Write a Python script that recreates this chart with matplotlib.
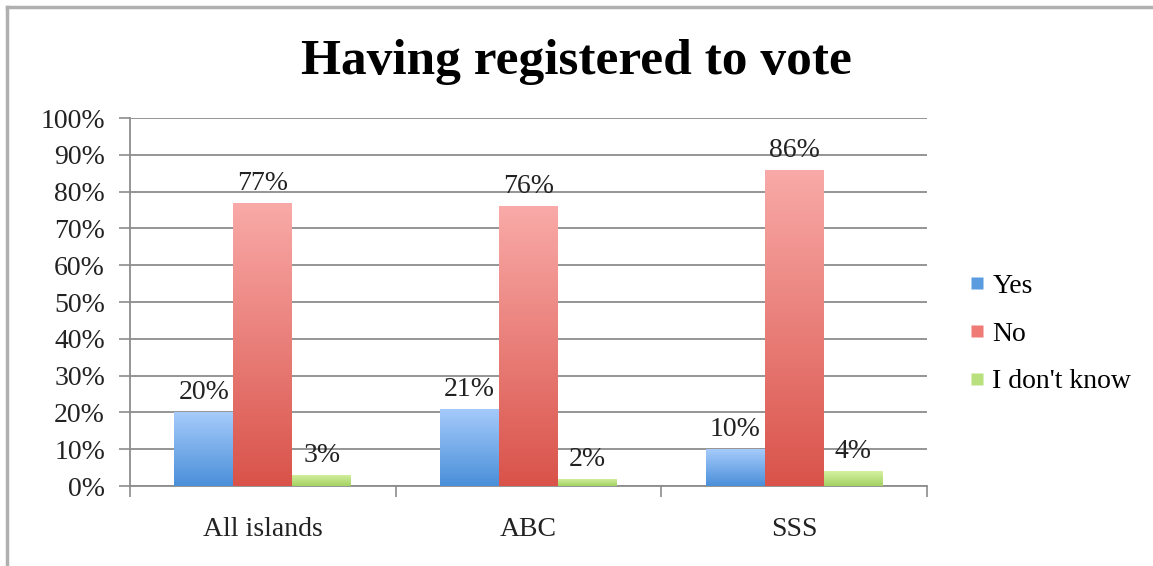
import matplotlib
matplotlib.use("Agg")
import matplotlib.pyplot as plt
import numpy as np
from matplotlib.colors import LinearSegmentedColormap
from matplotlib.lines import Line2D

categories = ["All islands", "ABC", "SSS"]
series_names = ["Yes", "No", "I don't know"]
yes_vals = [20, 21, 10]
no_vals = [77, 76, 86]
idk_vals = [3, 2, 4]
y_ticks = [0, 10, 20, 30, 40, 50, 60, 70, 80, 90, 100]
title = "Having registered to vote"

grad_colors = [("#a6cbfb", "#4a8fd9"), ("#f9aaa8", "#d9534a"), ("#d6f0a2", "#a3d262")]
legend_colors = ["#5b9be0", "#ee7b76", "#b8e07c"]

plt.rcParams['font.family'] = ['Liberation Serif', 'DejaVu Serif']

fig = plt.figure(figsize=(11.53, 5.66), dpi=100)
ax = fig.add_axes([130/1153, 80/566, (927-130)/1153, (486-118)/566])

x = np.arange(len(categories))
w = 0.222
all_vals = [yes_vals, no_vals, idk_vals]
grad = np.linspace(0, 1, 256).reshape(-1, 1)
for i, vals in enumerate(all_vals):
    offs = (i - 1) * w
    bars = ax.bar(x + offs, vals, w, color="none", edgecolor="none", zorder=3)
    cmap = LinearSegmentedColormap.from_list(f"g{i}", [grad_colors[i][1], grad_colors[i][0]])
    for b, v in zip(bars, vals):
        bx, by = b.get_x(), b.get_y()
        bw, bh = b.get_width(), b.get_height()
        im = ax.imshow(grad, cmap=cmap, aspect="auto", origin="lower",
                       extent=[bx, bx + bw, by, by + bh], zorder=3)
        im.set_clip_path(b)
        ax.annotate(f"{v}%", (bx + bw / 2, by + bh), xytext=(0, 5),
                    textcoords="offset points", ha="center", va="bottom",
                    fontsize=20, color="#222222", zorder=5)

ax.set_xlim(-0.5, len(categories) - 0.5)
ax.set_ylim(0, 100)
ax.set_yticks(y_ticks)
ax.set_yticklabels([f"{t}%" for t in y_ticks], fontsize=20, color="#222222")
ax.set_xticks(x)
ax.set_xticklabels(categories, fontsize=20, color="#222222")
ax.set_xticks([-0.5, 0.5, 1.5, 2.5], minor=True)
ax.tick_params(axis="x", which="major", length=0, pad=22)
ax.tick_params(axis="x", which="minor", length=8, color="#8c8c8c", width=1.2)
ax.tick_params(axis="y", length=8, color="#8c8c8c", width=1.2, pad=10)
ax.grid(axis="y", color="#8c8c8c", linewidth=1.3, zorder=0)
ax.set_axisbelow(True)
for s in ["top", "right"]:
    ax.spines[s].set_visible(False)
for s in ["left", "bottom"]:
    ax.spines[s].set_color("#8c8c8c")
    ax.spines[s].set_linewidth(1.3)

fig.text(0.5, 1 - 62/566, title, ha="center", va="center", fontsize=37,
         fontweight="bold", color="black")

handles = [Line2D([0], [0], marker="s", linestyle="none", markersize=9,
                  markerfacecolor=c, markeredgecolor="none") for c in legend_colors]
fig.legend(handles, series_names, loc="center left", bbox_to_anchor=(955/1153, 1 - 334/566),
           frameon=False, fontsize=20, handlelength=0.6, handletextpad=0.25,
           labelspacing=0.8, borderpad=0)

fig.add_artist(Line2D([7/1153, 1], [1 - 7/566, 1 - 7/566], color="#b0b0b0", linewidth=2.5,
                      transform=fig.transFigure))
fig.add_artist(Line2D([7/1153, 7/1153], [0, 1 - 7/566], color="#b0b0b0", linewidth=2.5,
                      transform=fig.transFigure))

fig.savefig("out.png", dpi=100)
